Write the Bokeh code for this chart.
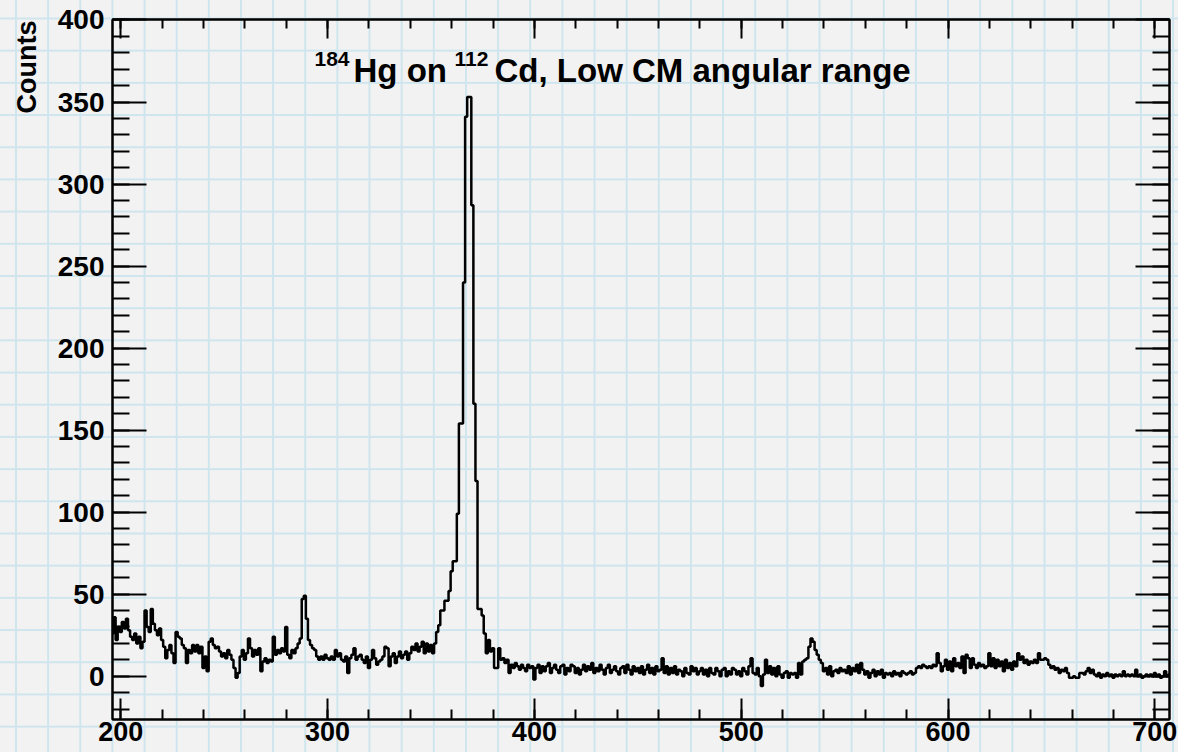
import numpy as np
from bokeh.plotting import figure
from bokeh.models import (Range1d, LinearAxis, SingleIntervalTicker, Label,
                          CustomLabelingPolicy, Title)
from bokeh.embed import file_html
from bokeh.resources import INLINE

# ---------------- data (counts per 1-unit bin, first bin centred at 196) ----------------
first_bin = 196
counts_196_295 = [26, 36, 22, 30, 27, 33, 29, 35, 28, 24,
                  22, 26, 20, 24, 17, 21, 40, 30, 27, 41,
                  32, 28, 25, 29, 22, 18, 11, 16, 19, 14,
                  8, 27, 24, 23, 19, 17, 8, 16, 14, 19,
                  15, 19, 14, 18, 5, 12, 3, 21, 23, 19,
                  17, 18, 15, 12, 14, 11, 16, 13, 10, 5,
                  -1, 2, 12, 16, 10, 14, 23, 17, 12, 16,
                  13, 17, 3, 9, 11, 8, 10, 9, 24, 13,
                  16, 14, 17, 15, 30, 13, 11, 16, 14, 17,
                  20, 23, 47, 49, 35, 22, 19, 17, 16, 12]
counts_296_395 = [10, 12, 10, 13, 11, 10, 12, 10, 16, 12,
                  14, 10, 9, 12, 2, 11, 13, 17, 10, 12,
                  13, 10, 8, 12, 5, 10, 16, 11, 7, 9,
                  10, 12, 18, 17, 6, 12, 14, 8, 12, 15,
                  11, 13, 15, 10, 14, 18, 16, 20, 15, 18,
                  21, 14, 20, 15, 19, 14, 20, 27, 31, 40,
                  40, 46, 46, 52, 64, 70, 70, 99, 154, 154,
                  240, 341, 353, 353, 287, 166, 119, 41, 41, 37,
                  26, 14, 22, 15, 17, 5, 5, 17, 10, 11,
                  8, 10, 2, 7, 5, 8, 6, 4, 7, 5]
counts_396_495 = [3, 7, 5, 6, -2, 5, 7, 2, 6, 3,
                  6, 8, 2, 5, 7, 4, 2, 6, 7, 1,
                  5, 3, 7, 6, 2, 5, 1, 4, 7, 3,
                  6, 4, 8, 2, 5, 3, 7, 4, 1, 5,
                  7, 2, 4, 6, 3, 1, 5, 6, 2, 7,
                  4, 1, 6, 3, 5, 2, 6, 1, 4, 7,
                  2, 5, 1, 6, 3, 4, 11, 2, 6, 1,
                  5, 2, 6, 1, 4, 3, 0, 5, 2, 1,
                  6, 3, 5, 1, 3, 5, 1, 4, 0, 5,
                  2, 1, 5, 3, 0, 4, 5, 0, 3, 1]
counts_496_595 = [5, 4, 1, 3, 0, 5, 3, 1, 6, 11,
                  2, 1, 5, 0, -6, 1, 10, 2, 6, 1,
                  5, 0, 6, 1, -1, 2, 3, -1, 2, 1,
                  2, -1, 8, 1, 9, 10, 11, 18, 23, 21,
                  16, 13, 10, 8, 3, 5, 1, 6, 0, 3,
                  4, 2, 5, 3, 4, 2, 6, 1, 5, 3,
                  7, 2, 8, 4, 1, 3, -1, 2, 4, 0,
                  3, 1, 4, -1, 2, 1, 2, 0, 3, 1,
                  2, 0, 3, 2, 1, 2, 3, 1, 2, 5,
                  6, 5, 7, 6, 5, 6, 5, 7, 6, 14]
counts_596_707 = [8, 3, 6, 10, 4,
                  9, 3, 11, 6, 8, 5, 12, 2, 13, 11,
                  5, 11, 7, 5, 8, 6, 7, 5, 6, 14,
                  6, 11, 5, 10, 6, 9, 3, 10, 5, 8,
                  4, 9, 6, 14, 10, 12, 8, 10, 7, 9,
                  8, 10, 8, 14, 10, 10, 11, 10, 7, 5,
                  6, 4, 5, 2, 4, 3, 5, 2, -1, -1,
                  0, -1, -1, 2, 2, 1, 3, 5, 2, 4,
                  1, 0, 2, -1, 1, 0, 2, 0, 1, -1,
                  1, 0, 1, 0, 3, 0, 1, 0, 1, 0,
                  4, 0, 1, -1, 0, 1, 0, 1, 0, 2,
                  0, 1, -1, 0, 3, 0, 1]

x_ticks_interval = 100
y_ticks_interval = 50
x_min, x_max = 196.0, 707.1
y_min, y_max = -26.4, 400.3

title_sup1 = "184"
title_part1 = "Hg on "
title_sup2 = "112"
title_part2 = "Cd, Low CM angular range"
y_label = "Counts"

counts = counts_196_295 + counts_296_395 + counts_396_495 + counts_496_595 + counts_596_707
centers = np.arange(first_bin, first_bin + len(counts))

FONT = "Liberation Sans"

p = figure(frame_width=1057, frame_height=700,
           x_range=Range1d(x_min, x_max), y_range=Range1d(y_min, y_max),
           x_axis_type=None, y_axis_type=None,
           output_backend="svg", toolbar_location=None,
           min_border_left=111, min_border_right=10,
           min_border_top=19, min_border_bottom=33)

p.background_fill_color = None
p.border_fill_color = None
p.outline_line_color = "black"
p.outline_line_width = 2
p.styles = {
    "background-color": "#f2f2f2",
    "background-image": ("linear-gradient(to right, #cfe5ee 2px, transparent 2px), "
                         "linear-gradient(to bottom, #cfe5ee 2px, transparent 2px)"),
    "background-size": "32.15px 32.2px",
    "background-position": "15px 17.5px",
}


def style_axis(ax, tick_in, minor_in, show_labels, standoff=8, size="27px"):
    ax.major_tick_in = tick_in
    ax.major_tick_out = 0
    ax.minor_tick_in = minor_in
    ax.minor_tick_out = 0
    ax.axis_line_color = "black"
    ax.axis_line_width = 2
    ax.major_tick_line_width = 2
    ax.minor_tick_line_width = 2
    ax.major_tick_line_color = "black"
    ax.minor_tick_line_color = "black"
    if show_labels:
        ax.major_label_text_font = FONT
        ax.major_label_text_font_style = "bold"
        ax.major_label_text_font_size = size
        ax.major_label_text_color = "black"
        ax.major_label_standoff = standoff
    else:
        # mirror axis: ticks only, no labels drawn
        ax.major_label_text_font_size = "1px"
        ax.major_label_standoff = 0
        ax.major_label_policy = CustomLabelingPolicy(code="return []")


bottom = LinearAxis(ticker=SingleIntervalTicker(interval=x_ticks_interval, num_minor_ticks=5))
style_axis(bottom, 21, 10, True, standoff=2, size="27px")
p.add_layout(bottom, "below")

top = LinearAxis(ticker=SingleIntervalTicker(interval=x_ticks_interval, num_minor_ticks=5))
style_axis(top, 19, 9, False)
p.add_layout(top, "above")

left = LinearAxis(ticker=SingleIntervalTicker(interval=y_ticks_interval, num_minor_ticks=5))
style_axis(left, 34, 17, True, standoff=8, size="28px")
p.add_layout(left, "left")

# y-axis title, ROOT style: placed at the top end of the axis
p.add_layout(Title(text=y_label, align="right", vertical_align="top", standoff=22,
                   offset=1, text_font=FONT, text_font_style="bold",
                   text_font_size="27px", text_color="black"), "left")

right = LinearAxis(ticker=SingleIntervalTicker(interval=y_ticks_interval, num_minor_ticks=5))
style_axis(right, 34, 17, False)
p.add_layout(right, "right")

p.step(centers, counts, mode="center", line_color="black", line_width=2.5)


def add_text(text, xo, yo, size):
    lab = Label(x=x_min, y=y_max, x_offset=xo, y_offset=yo, text=text,
                text_font=FONT, text_font_style="bold", text_font_size=size,
                text_color="black", text_align="left", text_baseline="alphabetic")
    p.add_layout(lab)


add_text(title_sup1, 202, -39, "21px")
add_text(title_part1, 241, -51, "33px")
add_text(title_sup2, 342, -39, "21px")
add_text(title_part2, 382, -51, "33px")

open("out.html", "w").write(file_html(p, INLINE))
